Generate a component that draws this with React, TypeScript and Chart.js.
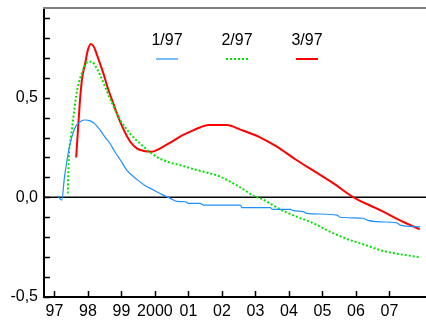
import React, { useEffect, useRef } from 'react';
import { Chart, registerables } from 'chart.js';

Chart.register(...registerables);

const FONT = '"Liberation Sans", Arial, sans-serif';

const yearTicks = [1997, 1998, 1999, 2000, 2001, 2002, 2003, 2004, 2005, 2006, 2007];
const yearLabels = ['97', '98', '99', '2000', '01', '02', '03', '04', '05', '06', '07'];
const yMajorTicks = [-0.5, 0, 0.5];
const yMinorTicks = [-0.4, -0.3, -0.2, -0.1, 0.1, 0.2, 0.3, 0.4, 0.6, 0.7, 0.8, 0.9];
const seriesNames = ['1/97', '2/97', '3/97'];

const blueX = [1997.11, 1997.22, 1997.3, 1997.38, 1997.47, 1997.55, 1997.65, 1997.8, 1997.92, 1998.05, 1998.2, 1998.36, 1998.5, 1998.66, 1998.8, 1998.96, 1999.16, 1999.46, 1999.7, 1999.96, 2000.2, 2000.46, 2000.65, 2000.9, 2001.0, 2001.35, 2001.45, 2002.55, 2002.6, 2003.45, 2003.5, 2004.05, 2004.13, 2004.43, 2004.53, 2005.43, 2005.53, 2006.22, 2006.33, 2006.72, 2007.22, 2007.32, 2007.92];
const blueY = [0.005, -0.014, 0.1, 0.19, 0.27, 0.32, 0.36, 0.383, 0.388, 0.385, 0.37, 0.338, 0.305, 0.27, 0.23, 0.19, 0.137, 0.09, 0.06, 0.037, 0.015, -0.005, -0.02, -0.022, -0.03, -0.03, -0.039, -0.039, -0.052, -0.052, -0.06, -0.06, -0.067, -0.072, -0.08, -0.089, -0.1, -0.105, -0.114, -0.123, -0.128, -0.139, -0.148];

const greenX = [1997.4, 1997.43, 1997.5, 1997.57, 1997.65, 1997.72, 1997.82, 1997.92, 1998.01, 1998.12, 1998.22, 1998.36, 1998.51, 1998.7, 1998.96, 1999.26, 1999.56, 1999.96, 2000.36, 2000.75, 2001.25, 2001.65, 2001.96, 2002.5, 2003.0, 2003.15, 2003.76, 2004.2, 2004.73, 2005.23, 2005.83, 2006.3, 2006.72, 2007.3, 2007.9];
const greenY = [0.02, 0.2, 0.31, 0.405, 0.51, 0.57, 0.623, 0.665, 0.68, 0.68, 0.66, 0.615, 0.556, 0.48, 0.39, 0.32, 0.27, 0.213, 0.179, 0.162, 0.137, 0.12, 0.103, 0.055, 0.003, -0.005, -0.062, -0.095, -0.13, -0.173, -0.215, -0.24, -0.265, -0.285, -0.3];

const redX = [1997.65, 1997.72, 1997.77, 1997.83, 1997.92, 1998.0, 1998.09, 1998.18, 1998.27, 1998.46, 1998.61, 1998.76, 1998.96, 1999.26, 1999.46, 1999.66, 1999.91, 2000.16, 2000.46, 2000.75, 2001.06, 2001.36, 2001.6, 2002.15, 2002.55, 2003.15, 2003.64, 2004.2, 2004.73, 2005.33, 2005.93, 2006.72, 2007.3, 2007.9];
const redY = [0.2, 0.38, 0.5, 0.6, 0.673, 0.74, 0.77, 0.755, 0.715, 0.623, 0.54, 0.47, 0.38, 0.28, 0.246, 0.233, 0.229, 0.246, 0.275, 0.305, 0.33, 0.352, 0.363, 0.363, 0.34, 0.3, 0.254, 0.19, 0.134, 0.07, 0.0, -0.064, -0.114, -0.16];

const BLUE = '#1E90FF';
const GREEN = '#00E600';
const RED = '#FF0000';

function zip(xs: number[], ys: number[]) {
  const n = Math.min(xs.length, ys.length);
  const out: { x: number; y: number }[] = [];
  for (let i = 0; i < n; i++) out.push({ x: xs[i], y: ys[i] });
  return out;
}

const decorPlugin = {
  id: 'decor',
  beforeDatasetsDraw(chart: any) {
    const { ctx, chartArea, scales } = chart;
    const y0 = scales.y.getPixelForValue(0);
    ctx.save();
    ctx.strokeStyle = '#000';
    ctx.lineWidth = 1.5;
    ctx.beginPath();
    ctx.moveTo(chartArea.left, y0);
    ctx.lineTo(chartArea.right, y0);
    ctx.stroke();
    ctx.restore();
  },
  afterDraw(chart: any) {
    const { ctx, chartArea, scales } = chart;
    ctx.save();
    // top gray line
    ctx.strokeStyle = '#808080';
    ctx.lineWidth = 2;
    ctx.beginPath();
    ctx.moveTo(chartArea.left - 1, chartArea.top);
    ctx.lineTo(chartArea.right, chartArea.top);
    ctx.stroke();
    // inside ticks
    ctx.strokeStyle = '#000';
    ctx.lineWidth = 1.5;
    ctx.beginPath();
    for (const v of yearTicks) {
      const x = Math.round(scales.x.getPixelForValue(v)) + 0.5;
      ctx.moveTo(x, chartArea.bottom);
      ctx.lineTo(x, chartArea.bottom - 6);
    }
    for (const v of [...yMajorTicks, ...yMinorTicks]) {
      const y = Math.round(scales.y.getPixelForValue(v)) + 0.5;
      ctx.moveTo(chartArea.left, y);
      ctx.lineTo(chartArea.left + 6, y);
    }
    ctx.stroke();
    // legend
    const centers = [167, 237, 307];
    const colors = [BLUE, GREEN, RED];
    const widths = [1.2, 2, 2];
    ctx.fillStyle = '#000';
    ctx.font = '16px ' + FONT;
    ctx.textAlign = 'center';
    ctx.textBaseline = 'middle';
    seriesNames.forEach((name, i) => {
      const cx = centers[i];
      ctx.fillText(name, cx, 41);
      ctx.strokeStyle = colors[i];
      ctx.lineWidth = widths[i];
      ctx.setLineDash(i === 1 ? [2, 2] : []);
      ctx.beginPath();
      ctx.moveTo(cx - 11, 59);
      ctx.lineTo(cx + 11, 59);
      ctx.stroke();
    });
    ctx.setLineDash([]);
    ctx.restore();
  },
};

export default function App() {
  const ref = useRef<HTMLCanvasElement>(null);
  useEffect(() => {
    if (!ref.current) return;
    const chart = new Chart(ref.current, {
      type: 'line',
      data: {
        datasets: [
          {
            label: seriesNames[0],
            data: zip(blueX, blueY),
            borderColor: BLUE,
            borderWidth: 1.2,
            pointRadius: 0,
            cubicInterpolationMode: 'monotone',
            fill: false,
          },
          {
            label: seriesNames[1],
            data: zip(greenX, greenY),
            borderColor: GREEN,
            borderWidth: 2,
            borderDash: [2, 2],
            pointRadius: 0,
            cubicInterpolationMode: 'monotone',
            fill: false,
          },
          {
            label: seriesNames[2],
            data: zip(redX, redY),
            borderColor: RED,
            borderWidth: 2,
            pointRadius: 0,
            cubicInterpolationMode: 'monotone',
            fill: false,
          },
        ],
      },
      options: {
        responsive: false,
        animation: false,
        events: [],
        layout: { padding: { top: 8, right: 0, left: 0, bottom: 0 } },
        plugins: { legend: { display: false }, tooltip: { enabled: false } },
        scales: {
          x: {
            type: 'linear',
            min: 1996.69,
            max: 2008.09,
            afterBuildTicks: (s: any) => {
              s.ticks = yearTicks.map((v) => ({ value: v }));
            },
            afterFit: (s: any) => {
              s.height = 23;
              s.paddingLeft = 0;
              s.paddingRight = 0;
            },
            grid: { display: false, drawTicks: false },
            border: { display: true, color: '#000', width: 2 },
            ticks: {
              color: '#000',
              font: { family: FONT, size: 16 },
              padding: 5,
              maxRotation: 0,
              autoSkip: false,
              callback: (v: any) => {
                const i = yearTicks.indexOf(Number(v));
                return i >= 0 ? yearLabels[i] : '';
              },
            },
          },
          y: {
            type: 'linear',
            min: -0.5,
            max: 0.95,
            afterBuildTicks: (s: any) => {
              s.ticks = yMajorTicks.map((v) => ({ value: v }));
            },
            afterFit: (s: any) => {
              s.width = 44;
              s.paddingTop = 0;
              s.paddingBottom = 0;
            },
            grid: { display: false, drawTicks: false },
            border: { display: true, color: '#000', width: 2 },
            ticks: {
              color: '#000',
              font: { family: FONT, size: 16 },
              padding: 6,
              callback: (v: any) => Number(v).toFixed(1).replace('.', ','),
            },
          },
        },
      },
      plugins: [decorPlugin],
    } as any);
    return () => chart.destroy();
  }, []);
  return (
    <div style={{ position: 'absolute', left: 0, top: 0, width: 426, height: 320, background: '#fff' }}>
      <canvas ref={ref} width={426} height={320} />
    </div>
  );
}
